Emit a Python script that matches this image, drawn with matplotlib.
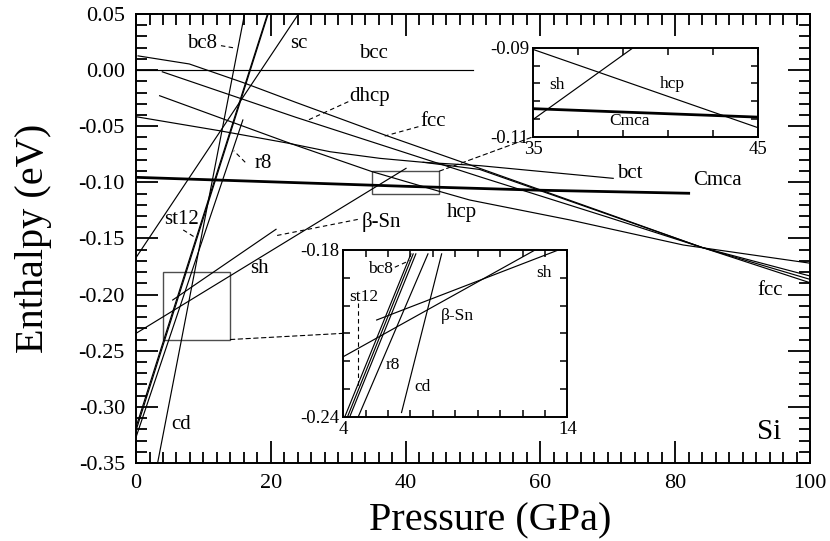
import numpy as np
import matplotlib
matplotlib.use("Agg")
import matplotlib.pyplot as plt
from matplotlib.patches import Rectangle, ConnectionPatch

plt.rcParams['font.family'] = ['Liberation Serif', 'DejaVu Serif']
plt.rcParams['axes.unicode_minus'] = False
plt.rcParams['xtick.direction'] = 'in'
plt.rcParams['ytick.direction'] = 'in'
plt.rcParams['xtick.top'] = True
plt.rcParams['ytick.right'] = True

# ---------------- main panel data (pressure GPa, enthalpy eV) ----------------
p_bcc = [0, 50]
h_bcc = [0.0, 0.0]

p_fcc = [0.3, 7.9, 15.8, 23.7, 37.0, 51.0, 70.0, 84.0, 100.0]
h_fcc = [0.0127, 0.0055, -0.0109, -0.0287, -0.058, -0.0875, -0.128, -0.158, -0.1894]

p_dhcp = [3.9, 23.7, 51.0, 70.0, 84.0, 100.0]
h_dhcp = [-0.0015, -0.042, -0.095, -0.131, -0.158, -0.1864]

p_hcp = [3.5, 22.85, 35.0, 45.0, 49.5, 64.4, 81.2, 100.0]
h_hcp = [-0.0228, -0.0652, -0.0904, -0.108, -0.1157, -0.1335, -0.1558, -0.172]

p_bct = [0.0, 12.4, 22.5, 28.8, 36.2, 42.6, 51.0, 70.8]
h_bct = [-0.0415, -0.054, -0.065, -0.0727, -0.0786, -0.0821, -0.0851, -0.0964]

p_bct2 = [42.6, 51.0, 84.0, 100.0]
h_bct2 = [-0.0821, -0.0885, -0.158, -0.1834]

p_cmca = [0.0, 20.0, 40.0, 60.0, 82.0]
h_cmca = [-0.0955, -0.0995, -0.1035, -0.107, -0.1097]

p_sc = [0.0, 24.1]
h_sc = [-0.167, 0.05]

p_sh = [0.0, 40.06]
h_sh = [-0.2345, -0.0875]

p_bsn = [5.44, 20.77]
h_bsn = [-0.2048, -0.1418]

p_cd = [3.2, 16.1]
h_cd = [-0.35, 0.05]

p_bc8 = [0.0, 19.5]
h_bc8 = [-0.318, 0.05]

p_st12 = [0.0, 19.6]
h_st12 = [-0.321, 0.05]

p_r8 = [0.0, 15.85]
h_r8 = [-0.327, -0.0444]

# ---------------- inset 1 (35-45 GPa) ----------------
i1_p_hcp = [35, 45]
i1_h_hcp = [-0.0904, -0.108]
i1_p_sh = [35, 39.44]
i1_h_sh = [-0.1061, -0.09]
i1_p_cmca = [35, 45]
i1_h_cmca = [-0.1037, -0.1056]

# ---------------- inset 2 (4-14 GPa) ----------------
i2_p_sh = [4.0, 12.56]
i2_h_sh = [-0.2184, -0.18]
i2_p_bsn = [5.49, 13.6]
i2_h_bsn = [-0.2052, -0.18]
i2_p_bc8 = [4.07, 7.02]
i2_h_bc8 = [-0.24, -0.1814]
i2_p_st12 = [4.19, 7.12]
i2_h_st12 = [-0.24, -0.1814]
i2_p_x = [4.29, 7.24]
i2_h_x = [-0.24, -0.1814]
i2_p_r8 = [4.67, 7.78]
i2_h_r8 = [-0.24, -0.1814]
i2_p_cd = [6.6, 8.39]
i2_h_cd = [-0.2385, -0.1814]

main_xticks = [0, 20, 40, 60, 80, 100]
main_yticks = [-0.35, -0.30, -0.25, -0.20, -0.15, -0.10, -0.05, 0.0, 0.05]

LW = 0.85
LW_THICK = 2.0
DASH = dict(linestyle=(0, (4, 3)), lw=0.8, color='k')


def style_main(ax):
    ax.set_xlim(0, 100)
    ax.set_ylim(-0.35, 0.05)
    ax.set_xticks(main_xticks)
    ax.set_xticks(np.arange(0, 101, 2), minor=True)
    ax.set_yticks(main_yticks)
    ax.set_yticklabels(['%.2f' % v for v in main_yticks])
    ax.set_yticks(np.round(np.arange(-0.35, 0.051, 0.01), 2), minor=True)
    ax.tick_params(which='major', length=16, width=1.3, labelsize=16, pad=8)
    ax.tick_params(which='minor', length=8, width=1.3)
    for s in ax.spines.values():
        s.set_linewidth(1.4)


fig = plt.figure(figsize=(8.3, 5.41), dpi=100)
ax = fig.add_axes([0.1639, 0.1442, 0.812, 0.8299])
style_main(ax)

for p, h in [(p_bcc, h_bcc), (p_fcc, h_fcc), (p_dhcp, h_dhcp), (p_hcp, h_hcp),
             (p_bct, h_bct), (p_bct2, h_bct2), (p_sc, h_sc), (p_sh, h_sh),
             (p_bsn, h_bsn), (p_cd, h_cd), (p_bc8, h_bc8), (p_st12, h_st12),
             (p_r8, h_r8)]:
    ax.plot(p, h, color='k', lw=LW)
ax.plot(p_cmca, h_cmca, color='k', lw=LW_THICK)

# zoom boxes
ax.add_patch(Rectangle((35, -0.11), 10, 0.02, fill=False, ec='0.3', lw=1.0))
ax.add_patch(Rectangle((4, -0.24), 10, 0.06, fill=False, ec='0.3', lw=1.0))

# labels
fs = 15
ax.text(9.75, 0.0239, 'bc8', fontsize=fs, ha='center', va='center')
ax.plot([12.6, 14.84], [0.0218, 0.0195], **DASH)
ax.text(24.1, 0.0239, 'sc', fontsize=fs, ha='center', va='center')
ax.text(35.2, 0.015, 'bcc', fontsize=fs, ha='center', va='center')
ax.text(34.7, -0.0237, 'dhcp', fontsize=fs, ha='center', va='center')
ax.plot([31.5, 25.3], [-0.0281, -0.0451], **DASH)
ax.text(44.1, -0.046, 'fcc', fontsize=fs, ha='center', va='center')
ax.plot([41.9, 36.9], [-0.0504, -0.0587], **DASH)
ax.text(18.9, -0.083, 'r8', fontsize=fs, ha='center', va='center')
ax.plot([16.2, 14.5], [-0.0821, -0.0718], **DASH)
ax.text(6.8, -0.1335, 'st12', fontsize=fs, ha='center', va='center')
ax.plot([7.0, 8.75], [-0.1424, -0.149], **DASH)
ax.text(36.4, -0.135, 'β-Sn', fontsize=fs, ha='center', va='center')
ax.plot([32.9, 20.5], [-0.133, -0.1478], **DASH)
ax.text(18.3, -0.1766, 'sh', fontsize=fs, ha='center', va='center')
ax.text(6.7, -0.316, 'cd', fontsize=fs, ha='center', va='center')
ax.text(48.4, -0.127, 'hcp', fontsize=fs, ha='center', va='center')
ax.text(73.3, -0.092, 'bct', fontsize=fs, ha='center', va='center')
ax.text(86.2, -0.0979, 'Cmca', fontsize=fs, ha='center', va='center')
ax.text(94.1, -0.196, 'fcc', fontsize=fs, ha='center', va='center')
ax.text(94.0, -0.322, 'Si', fontsize=21, ha='center', va='center')

ax.set_xlabel('Pressure (GPa)', fontsize=29)
ax.set_ylabel('Enthalpy (eV)', fontsize=29)
ax.xaxis.set_label_coords(0.525, -0.088)
ax.yaxis.set_label_coords(-0.125, 0.5)


def style_inset(a, xt, xl, yt, yl):
    a.set_xticks(xt)
    a.set_xticklabels(xl)
    a.set_yticks(yt)
    a.set_yticklabels(yl)
    a.tick_params(length=5, width=1.1, labelsize=13.5, pad=3)
    for s in a.spines.values():
        s.set_linewidth(1.4)


# inset 1
ax1 = fig.add_axes([0.6425, 0.7473, 0.2711, 0.1645])
ax1.set_xlim(35, 45)
ax1.set_ylim(-0.11, -0.09)
style_inset(ax1, np.arange(35, 46, 2), ['35', '', '', '', '', '45'],
            np.linspace(-0.11, -0.09, 6), ['-0.11', '', '', '', '', '-0.09'])
ax1.plot(i1_p_hcp, i1_h_hcp, color='k', lw=LW)
ax1.plot(i1_p_sh, i1_h_sh, color='k', lw=LW)
ax1.plot(i1_p_cmca, i1_h_cmca, color='k', lw=LW_THICK)
fsi = 12.5
ax1.text(36.05, -0.0984, 'sh', fontsize=fsi, ha='center', va='center')
ax1.text(41.2, -0.0981, 'hcp', fontsize=fsi, ha='center', va='center')
ax1.text(39.27, -0.1065, 'Cmca', fontsize=fsi, ha='center', va='center')

# inset 2
ax2 = fig.add_axes([0.4136, 0.2298, 0.2699, 0.3081])
ax2.set_xlim(4, 14)
ax2.set_ylim(-0.24, -0.18)
style_inset(ax2, np.arange(4, 15, 1), ['4'] + [''] * 9 + ['14'],
            np.linspace(-0.24, -0.18, 7), ['-0.24'] + [''] * 5 + ['-0.18'])
for p, h in [(i2_p_sh, i2_h_sh), (i2_p_bsn, i2_h_bsn), (i2_p_bc8, i2_h_bc8),
             (i2_p_st12, i2_h_st12), (i2_p_x, i2_h_x), (i2_p_r8, i2_h_r8),
             (i2_p_cd, i2_h_cd)]:
    ax2.plot(p, h, color='k', lw=LW)
ax2.text(5.64, -0.187, 'bc8', fontsize=fsi, ha='center', va='center')
ax2.plot([6.3, 6.96], [-0.1862, -0.1838], **DASH)
ax2.text(4.93, -0.1968, 'st12', fontsize=fsi, ha='center', va='center')
ax2.plot([4.67, 4.67], [-0.1992, -0.2292], **DASH)
ax2.text(6.23, -0.2213, 'r8', fontsize=fsi, ha='center', va='center')
ax2.text(7.53, -0.2292, 'cd', fontsize=fsi, ha='center', va='center')
ax2.text(9.1, -0.2038, 'β-Sn', fontsize=fsi, ha='center', va='center')
ax2.text(12.97, -0.1882, 'sh', fontsize=fsi, ha='center', va='center')

# connectors from boxes to insets
c1 = ConnectionPatch(xyA=(45, -0.09), coordsA=ax.transData,
                     xyB=(35, -0.11), coordsB=ax1.transData, **DASH)
fig.add_artist(c1)
c2 = ConnectionPatch(xyA=(14, -0.24), coordsA=ax.transData,
                     xyB=(4, -0.21), coordsB=ax2.transData, **DASH)
fig.add_artist(c2)

fig.savefig('out.png', dpi=100)
